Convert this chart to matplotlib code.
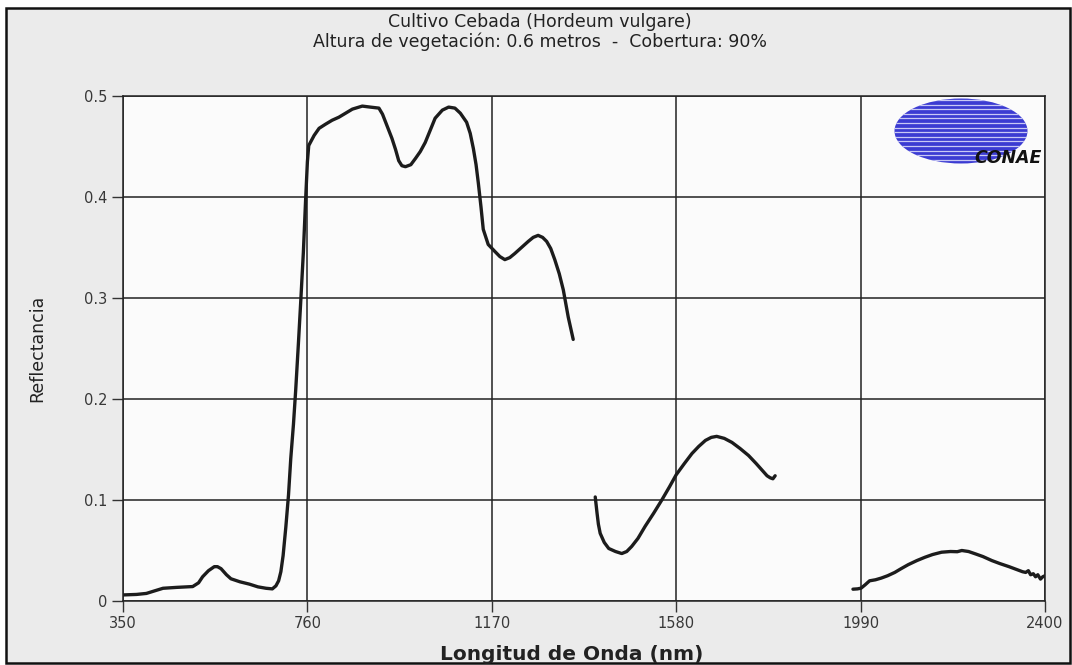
import matplotlib
matplotlib.use("Agg")
import matplotlib.pyplot as plt
from matplotlib.patches import Ellipse, Rectangle
import numpy as np

plt.rcParams['font.family'] = ['DejaVu Sans']

# Segment 1: visible + NIR (350 - 1350 nm)
wl_1 = [350, 380, 402, 420, 439, 470, 505, 518, 527, 540, 553, 560, 568, 580, 590,
        610, 631, 650, 668, 682, 690, 696, 701, 706, 712, 718, 723, 729, 734, 740,
        745, 751, 756, 760, 763, 775, 786, 800, 815, 830, 845, 860, 882, 900, 919,
        927, 934, 941, 948, 956, 963, 970, 978, 990, 1000, 1011, 1022, 1033, 1044,
        1060, 1074, 1088, 1100, 1114, 1122, 1129, 1135, 1140, 1146, 1151, 1162,
        1177, 1188, 1199, 1210, 1221, 1236, 1251, 1262, 1273, 1283, 1292, 1301,
        1310, 1320, 1329, 1340, 1351]
refl_1 = [0.006, 0.0065, 0.0075, 0.010, 0.0126, 0.0135, 0.0143, 0.018, 0.024, 0.030,
          0.034, 0.034, 0.032, 0.026, 0.022, 0.019, 0.0167, 0.014, 0.0126, 0.012,
          0.015, 0.020, 0.029, 0.045, 0.073, 0.105, 0.141, 0.175, 0.209, 0.255,
          0.295, 0.345, 0.397, 0.435, 0.451, 0.461, 0.468, 0.472, 0.476, 0.479,
          0.483, 0.487, 0.490, 0.489, 0.488, 0.482, 0.474, 0.466, 0.458, 0.447,
          0.436, 0.431, 0.430, 0.432, 0.438, 0.445, 0.454, 0.466, 0.478, 0.486,
          0.489, 0.488, 0.483, 0.474, 0.463, 0.448, 0.432, 0.414, 0.390, 0.368,
          0.353, 0.346, 0.341, 0.338, 0.340, 0.344, 0.350, 0.356, 0.360, 0.362,
          0.360, 0.356, 0.349, 0.338, 0.324, 0.308, 0.281, 0.259]

# Segment 2: 1400 - 1800 nm
wl_2 = [1400, 1402, 1404, 1407, 1411, 1420, 1430, 1445, 1459, 1470, 1481, 1495,
        1511, 1530, 1548, 1565, 1580, 1598, 1615, 1630, 1645, 1658, 1670, 1687,
        1704, 1722, 1741, 1758, 1774, 1782, 1789, 1795, 1800]
refl_2 = [0.103, 0.095, 0.087, 0.076, 0.067, 0.058, 0.052, 0.049, 0.047, 0.049,
          0.054, 0.062, 0.074, 0.087, 0.100, 0.113, 0.125, 0.136, 0.146, 0.153,
          0.159, 0.162, 0.163, 0.161, 0.157, 0.151, 0.144, 0.136, 0.128, 0.124,
          0.122, 0.121, 0.124]

# Segment 3: 1975 - 2400 nm
wl_3 = [1973, 1983, 1991, 2000, 2010, 2023, 2036, 2050, 2066, 2080, 2096, 2115,
        2133, 2150, 2170, 2190, 2205, 2215, 2230, 2245, 2262, 2282, 2300, 2320,
        2338, 2350, 2357, 2363, 2368, 2374, 2379, 2384, 2390, 2395, 2400]
refl_3 = [0.0117, 0.012, 0.0127, 0.016, 0.020, 0.021, 0.0227, 0.025, 0.0283, 0.032,
          0.036, 0.040, 0.0433, 0.046, 0.0483, 0.049, 0.0488, 0.050, 0.049, 0.0467,
          0.044, 0.040, 0.037, 0.034, 0.031, 0.029, 0.0283, 0.030, 0.026, 0.027,
          0.024, 0.026, 0.0217, 0.024, 0.025]

x_ticks = [350, 760, 1170, 1580, 1990, 2400]
y_ticks = [0, 0.1, 0.2, 0.3, 0.4, 0.5]
y_tick_labels = ['0', '0.1', '0.2', '0.3', '0.4', '0.5']

W, H = 1072, 665
fig = plt.figure(figsize=(W / 100, H / 100), dpi=100, facecolor='white')

# grey panel with black frame (behind the axes)
fig.patches.append(Rectangle((6 / W, 1 - 663 / H), 1064 / W, 655 / H,
                             transform=fig.transFigure, facecolor='#ebebeb',
                             edgecolor='#111111', linewidth=1.8, zorder=-10))

ax = fig.add_axes([123 / W, 1 - 601 / H, 922 / W, 505 / H])
ax.set_zorder(1)
ax.set_facecolor('#fbfbfb')

line_kw = dict(color='#1c1c1c', linewidth=2.4, solid_joinstyle='round', solid_capstyle='round')
ax.plot(wl_1, refl_1, **line_kw)
ax.plot(wl_2, refl_2, **line_kw)
ax.plot(wl_3, refl_3, **line_kw)

ax.set_xlim(350, 2400)
ax.set_ylim(0, 0.5)
ax.set_xticks(x_ticks)
ax.set_yticks(y_ticks)
ax.set_yticklabels(y_tick_labels)
ax.grid(True, color='#222222', linewidth=1.1)
ax.set_axisbelow(True)
for s in ax.spines.values():
    s.set_color('#222222')
    s.set_linewidth(1.1)
ax.tick_params(direction='out', length=8, width=1, color='#333333',
               labelsize=10.5, labelcolor='#383838', pad=3)

fig.text(572 / W, 1 - 654 / H, 'Longitud de Onda (nm)', fontsize=14.5, fontweight='bold',
         ha='center', va='center', color='#222222')
fig.text(37 / W, 1 - 348 / H, 'Reflectancia', rotation=90, fontsize=12.5,
         ha='center', va='center', color='#222222')

fig.text(540 / W, 1 - 22 / H, 'Cultivo Cebada (Hordeum vulgare)', fontsize=12.5,
         ha='center', va='center', color='#222222')
fig.text(540 / W, 1 - 42 / H, 'Altura de vegetación: 0.6 metros  -  Cobertura: 90%',
         fontsize=12.5, ha='center', va='center', color='#222222')

# CONAE logo
ell = Ellipse((961 / W, 1 - 131 / H), 133 / W, 65 / H, transform=fig.transFigure,
              facecolor='#3b3bd2', edgecolor='none', zorder=5)
fig.patches.append(ell)
for k in range(14):
    yy = 1 - (100 + k * 4.6) / H
    ln = fig.add_artist(plt.Line2D([890 / W, 1032 / W], [yy, yy], transform=fig.transFigure,
                                   color='#c8c8f5', linewidth=0.9, zorder=6))
    ln.set_clip_path(ell)
fig.text(1008 / W, 1 - 158 / H, 'CONAE', fontsize=12.5, fontweight='bold', style='italic',
         ha='center', va='center', color='#111111', zorder=7)

fig.savefig('out.png', dpi=100, facecolor=fig.get_facecolor())
